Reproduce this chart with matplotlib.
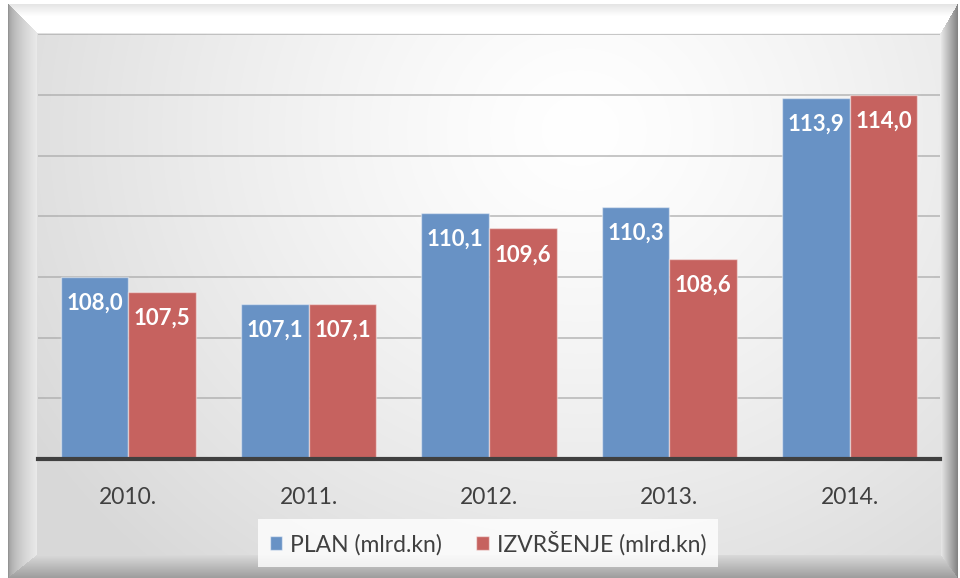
import numpy as np
import matplotlib
matplotlib.use("Agg")
import matplotlib.pyplot as plt
from matplotlib.patches import Patch

years = ["2010.", "2011.", "2012.", "2013.", "2014."]
plan = [108.0, 107.1, 110.1, 110.3, 113.9]
izvrsenje = [107.5, 107.1, 109.6, 108.6, 114.0]
series_names = ["PLAN (mlrd.kn)", "IZVRŠENJE (mlrd.kn)"]

BLUE = "#6892C5"
RED = "#C6625F"
TXT = "#404040"
FONT = ["Lato", "DejaVu Sans"]
plt.rcParams["font.family"] = FONT

W, H = 960, 578
fig = plt.figure(figsize=(W / 100, H / 100), dpi=100)

# ---- background: beveled frame with radial gradient ----
yy, xx = np.mgrid[0:H, 0:W].astype(float)
img = np.ones((H, W))
x0, x1, y0, y1 = 8, 957, 4, 577
ix0, ix1, iy0, iy1 = 37, 940, 33, 554
inframe = (xx >= x0) & (xx <= x1) & (yy >= y0) & (yy <= y1)
interior = (xx >= ix0) & (xx <= ix1) & (yy >= iy0) & (yy <= iy1)
r = np.sqrt((xx - 580) ** 2 + ((yy - 130) * 1.1) ** 2)
grad = 1 - 0.15 * np.clip(r / 640, 0, 1) ** 1.3
img[interior] = grad[interior]
bev = inframe & ~interior
wl, wr, wt, wb = ix0 - x0, x1 - ix1, iy0 - y0, y1 - iy1
dl = (xx - x0) / wl
dr = (x1 - xx) / wr
dt = (yy - y0) / wt
db = (y1 - yy) / wb
stack = np.stack([dl, dr, dt, db])
side = np.argmin(stack, axis=0)
t = np.clip(np.min(stack, axis=0), 0, 1)
vl = 0.58 + 0.34 * np.sqrt(t)
vr = 0.52 + 0.40 * t
vt = 0.90 + 0.10 * np.clip(t * 2.5, 0, 1)
vb = 0.62 + 0.24 * t
vals = np.choose(side, [vl, vr, vt, vb])
img[bev] = vals[bev]
rgb = np.dstack([img, img, img])
bg = fig.add_axes([0, 0, 1, 1], zorder=0)
bg.imshow(rgb, extent=(0, W, H, 0), aspect="auto", interpolation="bilinear")
bg.set_xlim(0, W)
bg.set_ylim(H, 0)
bg.axis("off")

# ---- main axes ----
left, right, top, base = 38, 940, 34.3, 459
ax = fig.add_axes([left / W, 1 - base / H, (right - left) / W, (base - top) / H], zorder=1)
ax.patch.set_alpha(0)
x = np.arange(len(years))
bw = 0.375
b1 = ax.bar(x - bw / 2, plan, bw, color=BLUE,
            edgecolor=(1, 1, 1, 0.45), linewidth=1.0, zorder=3)
b2 = ax.bar(x + bw / 2, izvrsenje, bw, color=RED,
            edgecolor=(1, 1, 1, 0.45), linewidth=1.0, zorder=3)
ax.set_ylim(102, 116)
ax.set_xlim(-0.5, len(years) - 0.5)
ax.set_yticks(np.arange(104, 117, 2))
ax.yaxis.grid(True, color="#a8a8a8", linewidth=1.2, alpha=0.75, zorder=1)
ax.set_axisbelow(True)
for s in ["left", "right", "top", "bottom"]:
    ax.spines[s].set_visible(False)
ax.axhline(102, color=TXT, linewidth=3, zorder=4, clip_on=False)
ax.tick_params(axis="y", left=False, labelleft=False)
ax.tick_params(axis="x", bottom=False, pad=17, labelsize=16.5, labelcolor=TXT)
ax.set_xticks(x)
ax.set_xticklabels(years)

def fmt(v):
    return f"{v:.1f}".replace(".", ",")

for bars, vals in ((b1, plan), (b2, izvrsenje)):
    for rect, v in zip(bars, vals):
        ax.annotate(fmt(v), (rect.get_x() + rect.get_width() / 2, v),
                    xytext=(0, -19), textcoords="offset points",
                    ha="center", va="center", color="white",
                    fontsize=16, fontweight="bold", zorder=5)

handles = [Patch(facecolor=BLUE, edgecolor=(1, 1, 1, 0.5)),
           Patch(facecolor=RED, edgecolor=(1, 1, 1, 0.5))]
leg = fig.legend(handles, series_names, loc="center",
                 bbox_to_anchor=(488 / W, 1 - 543 / H), ncol=2,
                 fontsize=16.5, frameon=True, fancybox=False,
                 handlelength=0.55, handleheight=0.55, handletextpad=0.35,
                 columnspacing=1.5, borderpad=0.5)
leg.get_frame().set_facecolor((1, 1, 1, 0.35))
leg.get_frame().set_edgecolor("none")
leg.set_zorder(3)
for txt in leg.get_texts():
    txt.set_color(TXT)

fig.savefig("out.png", dpi=100)
